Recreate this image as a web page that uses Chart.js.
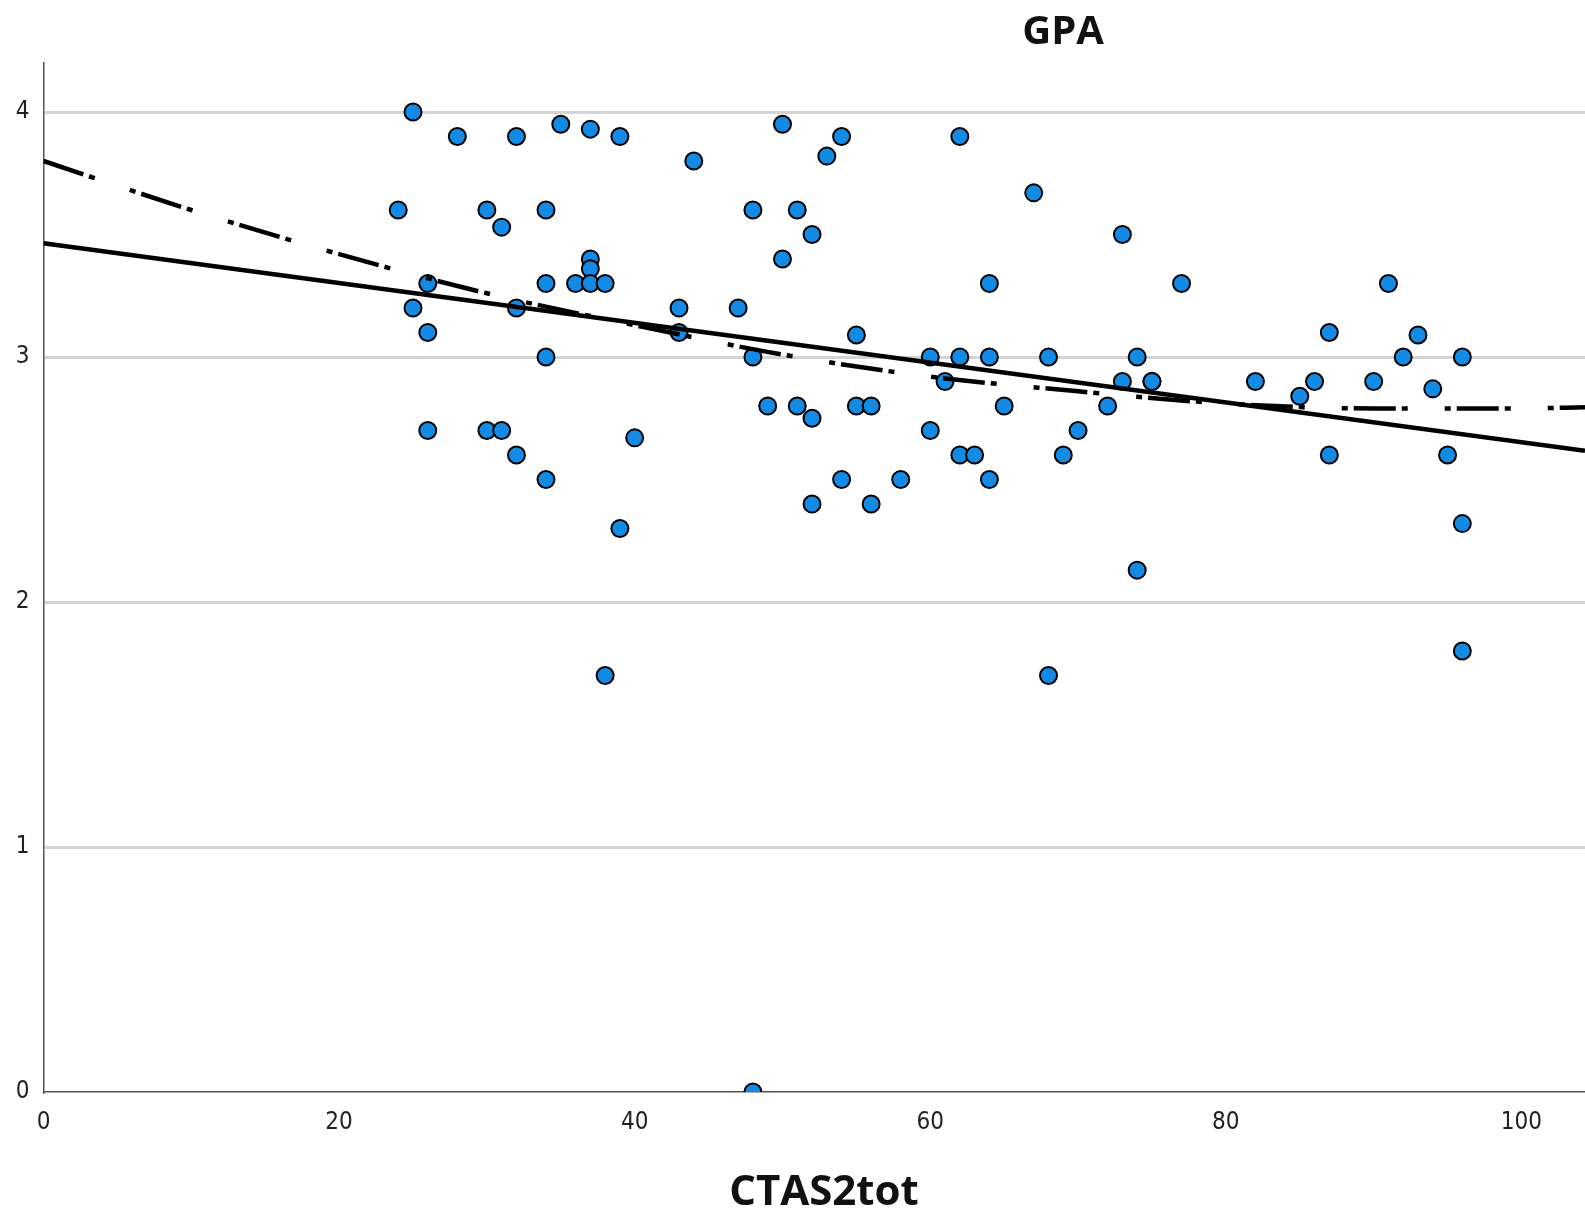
<!DOCTYPE html>
<html>
<head>
<meta charset="utf-8">
<script src="https://cdn.jsdelivr.net/npm/chart.js@4.4.1/dist/chart.umd.min.js"></script>
<style>
  html, body { margin: 0; padding: 0; background: #fff; overflow: hidden; }
  #wrap { width: 1585px; height: 1214px; }
  canvas { display: block; }
</style>
</head>
<body>
<div id="wrap"><canvas id="scatter" width="1585" height="1214"></canvas></div>
<script>
// CTAS2tot scores (x) and GPA (y)
var ctasTot = [24, 25, 25, 26, 26, 26, 28, 30, 30, 31, 31, 32, 32, 32, 34, 34, 34, 34, 35, 36,
  37, 37, 37, 37, 38, 38, 39, 39, 40, 43, 43, 44, 47, 48, 48, 48, 49, 50, 50, 51,
  51, 52, 52, 52, 53, 54, 54, 55, 55, 56, 56, 58, 60, 60, 61, 62, 62, 62, 63, 64,
  64, 64, 65, 67, 68, 68, 69, 70, 72, 73, 73, 74, 74, 75, 75, 77, 82, 85, 86, 87,
  87, 90, 91, 92, 93, 94, 95, 96, 96, 96];
var gpa = [3.6, 4.0, 3.2, 3.3, 3.1, 2.7, 3.9, 3.6, 2.7, 3.53, 2.7, 3.9, 3.2, 2.6, 3.6, 3.3, 3.0, 2.5, 3.95, 3.3,
  3.93, 3.4, 3.36, 3.3, 3.3, 1.7, 3.9, 2.3, 2.67, 3.2, 3.1, 3.8, 3.2, 3.6, 3.0, 0, 2.8, 3.95, 3.4, 3.6,
  2.8, 3.5, 2.75, 2.4, 3.82, 3.9, 2.5, 3.09, 2.8, 2.8, 2.4, 2.5, 3.0, 2.7, 2.9, 3.9, 3.0, 2.6, 2.6, 3.3,
  3.0, 2.5, 2.8, 3.67, 3.0, 1.7, 2.6, 2.7, 2.8, 3.5, 2.9, 3.0, 2.13, 2.9, 2.9, 3.3, 2.9, 2.84, 2.9, 3.1,
  2.6, 2.9, 3.3, 3.0, 3.09, 2.87, 2.6, 3.0, 2.32, 1.8];

// linear fit line (solid), read at the two ends
var linX = [0, 104.3];
var linY = [3.464, 2.617];

// quadratic fit line (dash-dot)
var quadX = [0, 10, 20, 30, 40, 50, 60, 70, 80, 90, 100, 104.3];
var quadY = [3.80, 3.60, 3.42, 3.26, 3.13, 3.01, 2.92, 2.86, 2.81, 2.79, 2.79, 2.795];

var xTicks = [0, 20, 40, 60, 80, 100];
var yTicks = [0, 1, 2, 3, 4];

function toPoints(xs, ys) {
  return xs.map(function (x, i) { return { x: x, y: ys[i] }; });
}

var tickFont = { family: "'DejaVu Sans Condensed', 'Liberation Sans Narrow', Roboto, sans-serif", size: 24 };
var titleFamily = "'Open Sans', Lato, sans-serif";

// "GPA" above the plot and "CTAS2tot" below it, placed as in the original
var outerLabels = {
  id: 'outerLabels',
  afterDraw: function (chart) {
    var c = chart.ctx;
    c.save();
    c.fillStyle = '#111';
    c.textAlign = 'center';
    c.textBaseline = 'middle';
    c.font = 'bold 40px ' + titleFamily;
    c.fillText('GPA', 1063, 33);
    c.font = 'bold 42px ' + titleFamily;
    c.fillText('CTAS2tot', 824, 1193);
    c.restore();
  }
};

var ctx = document.getElementById('scatter').getContext('2d');
var chart = new Chart(ctx, {
  type: 'scatter',
  data: {
    datasets: [
      {
        type: 'line',
        data: toPoints(linX, linY),
        borderColor: '#000',
        borderWidth: 4.5,
        pointRadius: 0,
        fill: false,
        order: 0
      },
      {
        type: 'line',
        data: toPoints(quadX, quadY),
        borderColor: '#000',
        borderWidth: 4.5,
        borderDash: [6, 6, 42, 6, 6, 37],
        borderDashOffset: 12,
        cubicInterpolationMode: 'monotone',
        pointRadius: 0,
        fill: false,
        order: 0
      },
      {
        data: toPoints(ctasTot, gpa),
        backgroundColor: '#138be4',
        borderColor: '#000',
        borderWidth: 2,
        pointRadius: 8.5,
        pointHoverRadius: 8.5,
        order: 1
      }
    ]
  },
  options: {
    responsive: false,
    animation: false,
    layout: { autoPadding: false, padding: { top: 63, left: 0, right: 0, bottom: 0 } },
    plugins: {
      legend: { display: false },
      tooltip: { enabled: false }
    },
    scales: {
      x: {
        type: 'linear',
        min: 0,
        max: 104.3,
        afterFit: function (s) { s.height = 122; s.paddingLeft = 0; s.paddingRight = 0; },
        afterBuildTicks: function (s) { s.ticks = xTicks.map(function (v) { return { value: v }; }); },
        grid: { display: false, drawTicks: false },
        border: { display: true, color: '#555', width: 1.5 },
        ticks: { font: tickFont, color: '#222', padding: 16, maxRotation: 0 }
      },
      y: {
        type: 'linear',
        min: 0,
        max: 4.2,
        afterFit: function (s) { s.width = 43.5; s.paddingTop = 0; s.paddingBottom = 0; },
        afterBuildTicks: function (s) { s.ticks = yTicks.map(function (v) { return { value: v }; }); },
        grid: {
          drawTicks: false,
          lineWidth: 3,
          color: function (c) { return c.tick && c.tick.value === 0 ? 'rgba(0,0,0,0)' : '#d4d4d4'; }
        },
        border: { display: true, color: '#555', width: 1.5 },
        ticks: { font: tickFont, color: '#222', padding: 14 }
      }
    }
  },
  plugins: [outerLabels]
});
</script>
</body>
</html>
